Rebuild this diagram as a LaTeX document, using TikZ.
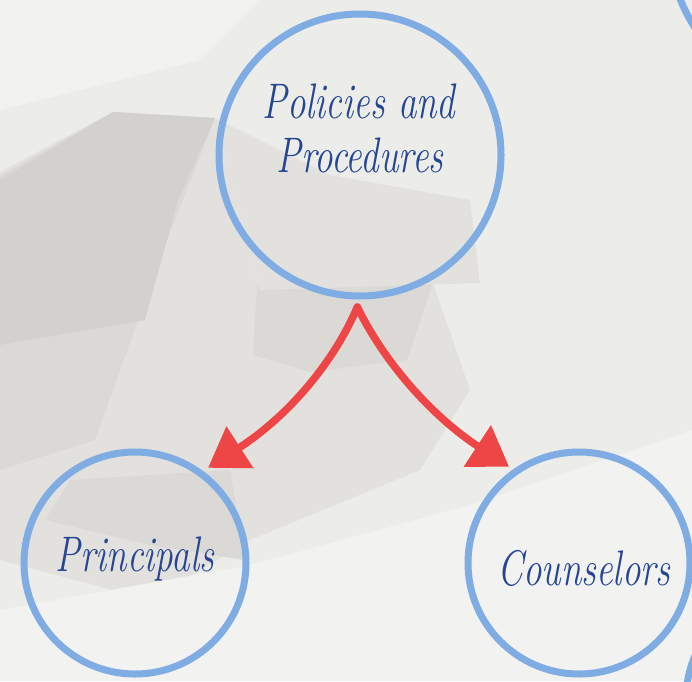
\documentclass[tikz,border=0pt]{standalone}
\usepackage{graphicx}
\usetikzlibrary{arrows.meta,calc}
\definecolor{bgc}{RGB}{236,236,233}
\definecolor{gA}{RGB}{210,209,206}
\definecolor{gB}{RGB}{218,217,214}
\definecolor{gC}{RGB}{226,225,222}
\definecolor{gL}{RGB}{242,242,240}
\definecolor{ringblue}{RGB}{128,172,228}
\definecolor{arrowred}{RGB}{238,70,70}
\definecolor{inkblue}{RGB}{38,70,148}
\newcommand{\tallscript}[1]{\scalebox{1}[1.35]{#1}}
\tikzset{
  ring/.style={circle, draw=ringblue, line width=7pt, minimum size=#1, inner sep=0pt},
  script/.style={text=inkblue, inner sep=0pt, anchor=base, font=\fontsize{37}{54}\selectfont\itshape},
  redarrow/.style={draw=arrowred, line width=7.5pt, line cap=round,
    -{Triangle[length=38pt,width=48pt]}}
}
\begin{document}
\begin{tikzpicture}[x=1pt,y=-1pt]
\useasboundingbox (0,0) rectangle (692,681);
\begin{scope}
\clip (0,0) rectangle (692,681);
\fill[bgc] (0,0) rectangle (692,681);
% soft background shapes
\fill[gC] (0,172) -- (113,112) -- (215,118) -- (260,290) -- (433,283) -- (470,390)
  -- (420,470) -- (250,540) -- (150,600) -- (0,560) -- cycle;
\fill[gB] (0,176) -- (113,112) -- (215,118) -- (165,245) -- (95,440) -- (0,470) -- cycle;
\fill[gA] (0,180) -- (113,112) -- (215,118) -- (178,200) -- (145,320) -- (0,345) -- cycle;
\fill[gB] (257,283) -- (433,283) -- (407,360) -- (310,372) -- (253,355) -- cycle;
\fill[gB] (70,480) -- (230,470) -- (245,560) -- (150,545) -- (45,520) -- cycle;
\fill[gC] (215,118) -- (330,175) -- (470,200) -- (480,283) -- (260,290) -- cycle;
\fill[gL] (0,610) -- (250,565) -- (470,505) -- (692,430) -- (692,681) -- (0,681) -- cycle;
\fill[gL] (0,0) -- (260,0) -- (200,60) -- (0,110) -- cycle;
% partial rings at the edges
\draw[ringblue, line width=7pt] (830,-60) circle (161pt);
\draw[ringblue, line width=7pt] (800,700) circle (114pt);
\end{scope}

% circles
\node[ring=282pt] (pp) at (360,155) {};
\node[ring=222pt] (pl) at (135,563) {};
\node[ring=222pt] (co) at (579,563) {};

% labels
\node[script] (pptxt1) at (359,118) {\tallscript{Policies and}};
\node[script] (pptxt2) at (360,172) {\tallscript{Procedures}};
\node[script] (pltxt) at (135,571) {\tallscript{Principals}};
\node[script] (cotxt) at (584,585) {\tallscript{Counselors}};

% arrows
\coordinate (s) at ($(pp.center)+(269:152pt)$);
\coordinate (el) at ($(pl.center)+(52.5:120pt)$);
\coordinate (er) at ($(co.center)+(126:119pt)$);
\draw[redarrow] (s) .. controls (335,360) and (290,415) .. (el);
\draw[redarrow] (s) .. controls (383,360) and (430,415) .. (er);
\end{tikzpicture}
\end{document}
